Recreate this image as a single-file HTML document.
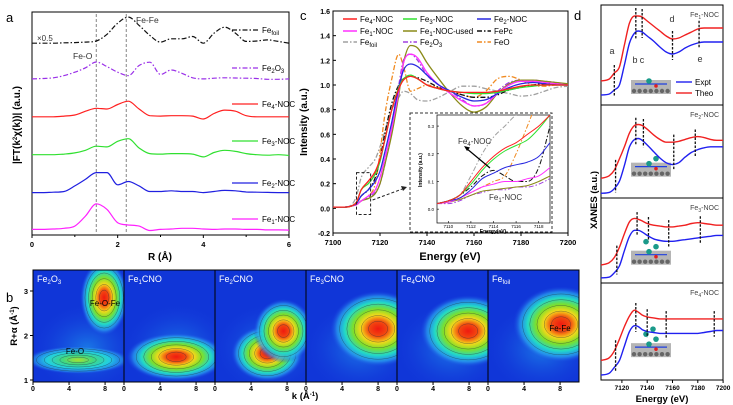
<!DOCTYPE html>
<html><head><meta charset="utf-8"><style>
html,body{margin:0;padding:0;background:#fff;}
svg{display:block;font-family:"Liberation Sans",Arial,sans-serif;}
</style></head><body>
<svg id="fig" width="733" height="405" viewBox="0 0 733 405" xmlns="http://www.w3.org/2000/svg">
<defs>
<radialGradient id="hot"><stop offset="0" stop-color="#f01a10"/><stop offset="0.2" stop-color="#f24a10"/><stop offset="0.36" stop-color="#f5d81a"/><stop offset="0.52" stop-color="#7de02a"/><stop offset="0.7" stop-color="#22d8c8"/><stop offset="0.86" stop-color="#2a9ff0" stop-opacity="0.7"/><stop offset="1" stop-color="#1a40e0" stop-opacity="0"/></radialGradient>
<radialGradient id="warm"><stop offset="0" stop-color="#a8e030"/><stop offset="0.3" stop-color="#40d880"/><stop offset="0.6" stop-color="#22d0e0"/><stop offset="0.85" stop-color="#2a9ff0" stop-opacity="0.6"/><stop offset="1" stop-color="#1a40e0" stop-opacity="0"/></radialGradient>
<radialGradient id="haze"><stop offset="0" stop-color="#20a8f0" stop-opacity="0.6"/><stop offset="1" stop-color="#1a40e0" stop-opacity="0"/></radialGradient>
</defs>
</svg>
<script>
// ---------------- Panel a data (R in Å, relative amplitudes) ----------------
const aR = [0,0.25,0.5,0.75,1,1.25,1.5,1.75,2,2.25,2.5,2.75,3,3.25,3.5,3.75,4,4.25,4.5,4.75,5,5.25,5.5,5.75,6];
const aFe1 = [0,0,0.02,0.05,0.15,0.6,1.15,0.9,0.3,0.2,0.15,-0.05,0,0.02,0.05,0.05,0.02,0,0.02,0.02,0,0,-0.02,-0.02,-0.03];
const aFe2 = [0,0,0.02,0.05,0.3,0.6,0.9,0.9,0.35,0.5,0.3,0.05,0.05,0.08,0.05,0.05,0,0.05,0.1,0.08,0.03,0.02,0.01,0,0];
const aFe3 = [0,0,0,0.03,0.08,0.2,0.38,0.35,0.6,0.72,0.3,0.05,0.03,0.05,0.05,0.03,-0.1,0.1,0.2,0.15,0.05,0,-0.02,0,-0.03];
const aFe4 = [0,0,0,0.03,0.08,0.25,0.38,0.35,0.55,0.7,0.35,0.05,0.03,0.05,0.05,0.03,-0.1,0.15,0.3,0.25,0.05,0,0,0,0];
const aFe2O3 = [0,0.02,0.05,0.15,0.3,0.5,0.76,0.55,0.3,0.15,0.6,0.75,0.2,0.4,0.25,0.05,0,0.03,0.05,0.04,0.03,0.02,-0.02,-0.02,0];
const aFoil = [0,0,0,0.02,0.03,0.05,0.1,0.4,0.9,1.17,0.8,0.35,0.05,0.2,0.2,0.3,0,0.45,0.72,0.45,0.08,0.1,0.15,0.08,0];
const aOffsets = [0.25,1.9,3.6,5.3,7.0,8.6];
const aTicks = [0,2,4,6];

// ---------------- Panel c data (XANES) ----------------
const cE = [7100,7105,7108,7110,7112,7115,7118,7120,7122,7125,7128,7130,7133,7136,7140,7145,7150,7155,7160,7165,7170,7175,7180,7185,7190,7195,7200];
const cFe4 = [0.01,0.01,0.02,0.05,0.15,0.22,0.3,0.4,0.55,0.8,0.97,1.04,1.07,1.05,1.0,0.97,0.95,0.94,0.94,0.94,0.95,0.97,0.99,1.0,1.0,1.0,1.0];
const cFe3 = [0.01,0.01,0.02,0.05,0.15,0.2,0.28,0.38,0.55,0.8,0.98,1.05,1.08,1.05,1.0,0.97,0.95,0.94,0.93,0.93,0.94,0.96,0.98,0.99,1.0,1.0,1.0];
const cFe2 = [0.01,0.01,0.02,0.04,0.1,0.15,0.22,0.3,0.45,0.7,0.98,1.12,1.17,1.15,1.08,1.0,0.95,0.9,0.87,0.88,0.93,0.98,1.01,1.02,1.01,1.0,1.0];
const cFe1 = [0.01,0.01,0.02,0.03,0.06,0.1,0.15,0.25,0.4,0.65,0.95,1.18,1.25,1.22,1.1,1.0,0.93,0.87,0.83,0.85,0.93,1.0,1.03,1.03,1.02,1.01,1.0];
const cFe1used = [0.01,0.01,0.02,0.03,0.06,0.08,0.12,0.2,0.35,0.6,0.92,1.18,1.32,1.3,1.18,1.05,0.93,0.83,0.78,0.82,0.93,1.01,1.04,1.04,1.03,1.02,1.01];
const cFePc = [0.01,0.01,0.02,0.04,0.1,0.15,0.25,0.4,0.6,0.85,1.0,1.05,1.07,1.06,1.03,0.98,0.95,0.92,0.9,0.9,0.92,0.96,0.98,1.0,1.01,1.01,1.0];
const cFoil = [0.01,0.01,0.03,0.1,0.25,0.33,0.4,0.5,0.62,0.8,0.9,0.95,0.93,0.88,0.87,0.9,0.95,0.99,0.99,0.97,0.95,0.93,0.91,0.92,0.95,0.98,0.99];
const cFe2O3 = [0.01,0.01,0.02,0.03,0.06,0.09,0.13,0.2,0.35,0.65,1.0,1.2,1.25,1.2,1.08,1.0,0.95,0.88,0.83,0.85,0.95,1.02,1.04,1.04,1.03,1.02,1.0];
const cFeO = [0.01,0.01,0.02,0.03,0.06,0.1,0.2,0.45,0.75,1.05,1.25,1.15,0.95,0.97,1.0,0.98,0.95,0.92,0.9,0.95,1.05,1.07,1.04,1.0,0.99,1.0,1.0];
const cYTicks = [-0.2,0,0.2,0.4,0.6,0.8,1.0,1.2,1.4,1.6];
const cXTicks = [7100,7120,7140,7160,7180,7200];
// inset
const iE = [7109,7110,7111,7112,7113,7114,7115,7116,7117,7118,7119];
const iFe4 = [.02,.03,.05,.1,.15,.19,.22,.24,.27,.3,.34];
const iFe3 = [.02,.03,.05,.09,.14,.18,.21,.23,.25,.29,.34];
const iFe2 = [.02,.03,.04,.07,.11,.13,.15,.16,.17,.19,.24];
const iFe1 = [.02,.025,.04,.06,.08,.09,.1,.1,.11,.12,.15];
const iFe1used = [.02,.025,.035,.05,.065,.07,.075,.08,.085,.1,.12];
const iFePc = [.02,.03,.05,.08,.12,.14,.12,.1,.1,.15,.3];
const iFoil = [.02,.03,.05,.12,.2,.26,.3,.34,.36,.38,.4];
const iFe2O3 = [.02,.02,.03,.05,.06,.07,.07,.08,.08,.09,.11];
const iFeO = [.02,.03,.04,.06,.08,.1,.12,.2,.3,.4,.45];
const iYTicks = [0,0.1,0.2,0.3];
const iXTicks = [7110,7112,7114,7116,7118];

// ---------------- Panel d data ----------------
const dE = [7103,7110,7114,7118,7122,7126,7130,7133,7136,7140,7145,7150,7155,7160,7165,7170,7175,7180,7185,7190,7195,7200];
const dExpt1 = [0.1,0.11,0.15,0.2,0.4,0.62,0.72,0.74,0.73,0.69,0.64,0.58,0.53,0.51,0.53,0.57,0.6,0.62,0.63,0.63,0.63,0.63];
const dTheo1 = [0.24,0.26,0.32,0.38,0.6,0.82,0.89,0.89,0.88,0.84,0.79,0.74,0.69,0.66,0.67,0.7,0.73,0.76,0.77,0.77,0.77,0.77];
const dExpt2 = [0.05,0.06,0.1,0.18,0.35,0.55,0.63,0.64,0.62,0.57,0.5,0.43,0.38,0.36,0.38,0.44,0.49,0.52,0.54,0.55,0.55,0.55];
const dTheo2 = [0.21,0.24,0.3,0.42,0.55,0.7,0.78,0.79,0.78,0.74,0.68,0.63,0.6,0.6,0.61,0.63,0.65,0.66,0.65,0.63,0.62,0.62];
const dExpt3 = [0.06,0.07,0.12,0.2,0.38,0.55,0.62,0.62,0.6,0.56,0.52,0.5,0.49,0.49,0.5,0.51,0.52,0.53,0.54,0.55,0.56,0.56];
const dTheo3 = [0.21,0.24,0.3,0.42,0.58,0.72,0.76,0.75,0.73,0.7,0.68,0.67,0.66,0.66,0.67,0.68,0.7,0.71,0.7,0.69,0.68,0.68];
const dExpt4 = [0.05,0.07,0.13,0.2,0.35,0.5,0.56,0.55,0.52,0.5,0.49,0.48,0.48,0.48,0.48,0.48,0.48,0.48,0.49,0.5,0.51,0.51];
const dTheo4 = [0.2,0.23,0.3,0.42,0.55,0.66,0.72,0.7,0.67,0.65,0.64,0.63,0.63,0.63,0.63,0.63,0.63,0.63,0.63,0.63,0.63,0.63];
const dMarks1 = [7114,7131,7136,7160,7181];
const dMarks2 = [7115,7131,7137,7161,7178];
const dMarks3 = [7116,7132,7141,7157,7182];
const dMarks4 = [7115,7131,7140,7155,7193];
const dXTicks = [7120,7140,7160,7180,7200];

// ---------------- Panel b data (WT peaks: k, R) ----------------
const bNames = ["Fe<tspan dy='2' font-size='6'>2</tspan><tspan dy='-2'>O</tspan><tspan dy='2' font-size='6'>3</tspan>","Fe<tspan dy='2' font-size='6'>1</tspan><tspan dy='-2'>CNO</tspan>","Fe<tspan dy='2' font-size='6'>2</tspan><tspan dy='-2'>CNO</tspan>","Fe<tspan dy='2' font-size='6'>3</tspan><tspan dy='-2'>CNO</tspan>","Fe<tspan dy='2' font-size='6'>4</tspan><tspan dy='-2'>CNO</tspan>","Fe<tspan dy='2' font-size='6'>foil</tspan>"];
const bPeakK = [[7.9,5.0],[5.8],[5.8,7.6],[8.0],[7.9],[8.1]];
const bPeakR = [[2.85,1.45],[1.52],[1.6,2.1],[2.15],[2.1],[2.25]];
const bPeakHot = [[1,0],[1],[1,1],[1],[1],[1]];
const bPeakSize = [[[24,38],[52,14]],[[50,24]],[[36,28],[30,32]],[[48,38]],[[48,36]],[[48,38]]];
const bKTicks = [0,4,8];
const bRTicks = [1,2,3];

// ---------------- helpers ----------------
const SVG = document.getElementById('fig');
const NS = 'http://www.w3.org/2000/svg';
function mk(tag, attrs, name, parent){
  const el = document.createElementNS(NS, tag);
  for (const k in attrs) el.setAttribute(k, attrs[k]);
  
  
  (parent||SVG).appendChild(el);
  return el;
}
function txt(x,y,html,name,opt){
  opt = opt||{};
  const el = mk('text',{x:x,y:y,'font-size':opt.size||8,'font-weight':opt.bold?'bold':'normal','text-anchor':opt.anchor||'start',fill:opt.fill||'#000'},name,opt.parent);
  if(opt.rot) el.setAttribute('transform','rotate('+opt.rot+' '+x+' '+y+')');
  el.innerHTML = html;
  return el;
}
function lin(d0,d1,r0,r1){ return v => r0 + (v-d0)/(d1-d0)*(r1-r0); }
// monotone cubic (Fritsch-Carlson)
function smoothPath(xs,ys){
  const n=xs.length, d=[], m=new Array(n);
  for(let i=0;i<n-1;i++) d.push((ys[i+1]-ys[i])/(xs[i+1]-xs[i]));
  m[0]=d[0]; m[n-1]=d[n-2];
  for(let i=1;i<n-1;i++){ m[i]=(d[i-1]*d[i]<=0)?0:(d[i-1]+d[i])/2; }
  for(let i=0;i<n-1;i++){
    if(d[i]===0){m[i]=0;m[i+1]=0;continue;}
    const a=m[i]/d[i], b=m[i+1]/d[i], s=a*a+b*b;
    if(s>9){const t=3/Math.sqrt(s); m[i]=t*a*d[i]; m[i+1]=t*b*d[i];}
  }
  let p='M'+xs[0].toFixed(1)+','+ys[0].toFixed(1);
  for(let i=0;i<n-1;i++){
    const h=(xs[i+1]-xs[i])/3;
    p+=' C'+(xs[i]+h).toFixed(1)+','+(ys[i]+m[i]*h).toFixed(1)+' '+(xs[i+1]-h).toFixed(1)+','+(ys[i+1]-m[i+1]*h).toFixed(1)+' '+xs[i+1].toFixed(1)+','+ys[i+1].toFixed(1);
  }
  return p;
}
function series(xv,yv,X,Y,color,dash,name,parent,w){
  return mk('path',{d:smoothPath(xv.map(X),yv.map(Y)),fill:'none',stroke:color,'stroke-width':w||1.2,'stroke-dasharray':dash||'none'},name,parent);
}
const DD = '5,2,1.5,2';

// ================= PANEL A =================
const aX = lin(0,6,32,289), aY = lin(0,10,235,12);
txt(6,22,'a','panel-a-letter',{size:13});
mk('rect',{x:32,y:12,width:257,height:223,fill:'none',stroke:'#000','stroke-width':1},'panel-a-frame');
aTicks.forEach(t=>{
  mk('line',{x1:aX(t),x2:aX(t),y1:235,y2:238,stroke:'#000'},'a-x-tick');
  txt(aX(t),247,t,'a-x-tick-label',{bold:true,anchor:'middle',size:7.5});
});
[1,3,5].forEach(t=>mk('line',{x1:aX(t),x2:aX(t),y1:235,y2:237,stroke:'#000'},'a-x-minor-tick'));
txt(160,260,'R (Å)','a-x-axis-title',{bold:true,anchor:'middle',size:10});
txt(20,125,'|FT(k<tspan dy="-3" font-size="6">2</tspan><tspan dy="3">χ(k))| (a.u.)</tspan>','a-y-axis-title',{bold:true,anchor:'middle',size:10,rot:-90});
[1.5,2.2].forEach(r=>mk('line',{x1:aX(r),x2:aX(r),y1:14,y2:233,stroke:'#777','stroke-dasharray':'3,2','stroke-width':0.9},'a-reference-dashed-line'));
const aSeries = [[aFe1,'#ff20ff',null,'fe1-noc'],[aFe2,'#2020e0',null,'fe2-noc'],[aFe3,'#30e030',null,'fe3-noc'],[aFe4,'#ff2020',null,'fe4-noc'],[aFe2O3,'#9a30e8',DD,'fe2o3'],[aFoil,'#111',DD,'fe-foil']];
aSeries.forEach((s,i)=>{
  series(aR,s[0].map(v=>v+aOffsets[i]),aX,aY,s[1],s[2],'a-curve-'+s[3]);
});
const aLab = [[219,'Fe<tspan dy="2" font-size="6">1</tspan><tspan dy="-2">-NOC</tspan>','#ff20ff',null],[183,'Fe<tspan dy="2" font-size="6">2</tspan><tspan dy="-2">-NOC</tspan>','#2020e0',null],[141,'Fe<tspan dy="2" font-size="6">3</tspan><tspan dy="-2">-NOC</tspan>','#30e030',null],[104,'Fe<tspan dy="2" font-size="6">4</tspan><tspan dy="-2">-NOC</tspan>','#ff2020',null],[68,'Fe<tspan dy="2" font-size="6">2</tspan><tspan dy="-2">O</tspan><tspan dy="2" font-size="6">3</tspan>','#9a30e8',DD],[30,'Fe<tspan dy="2" font-size="6">foil</tspan>','#111',DD]];
aLab.forEach(l=>{
  mk('line',{x1:232,x2:258,y1:l[0],y2:l[0],stroke:l[2],'stroke-width':1.3,'stroke-dasharray':l[3]||'none'},'a-legend-line');
  txt(262,l[0]+3,l[1],'a-legend-label',{size:8});
});
txt(37,41,'×0.5','a-scale-note',{size:8,fill:'#333'});
txt(73,59,'Fe-O','a-fe-o-label',{size:8.5,fill:'#333'});
txt(136,23,'Fe-Fe','a-fe-fe-label',{size:8.5,fill:'#333'});

// ================= PANEL B =================
txt(6,302,'b','panel-b-letter',{size:13});
const bTop=270,bBot=382,bLeft=33,bW=91;
const bRY = lin(1,3,380,291);
bNames.forEach((nm,p)=>{
  const x0 = bLeft+p*bW;
  const kX = lin(0,10.1,x0,x0+bW);
  const g = mk('g',{},'wt-panel-'+p);
  const cp = mk('clipPath',{id:'bc'+p},'wt-clip',SVG.querySelector('defs'));
  mk('rect',{x:x0,y:bTop,width:bW,height:bBot-bTop},'wt-clip-rect',cp);
  g.setAttribute('clip-path','url(#bc'+p+')');
  mk('rect',{x:x0,y:bTop,width:bW,height:bBot-bTop,fill:'#1036d8'},'wt-background',g);
  mk('ellipse',{cx:kX(6),cy:bRY(1.7),rx:bW*0.6,ry:45,fill:'url(#haze)'},'wt-haze',g);
  bPeakK[p].forEach((k,j)=>{
    const hot = bPeakHot[p][j];
    const rx = bPeakSize[p][j][0], ry = bPeakSize[p][j][1];
    const cx=kX(k), cy=bRY(bPeakR[p][j]);
    mk('ellipse',{cx:cx,cy:cy,rx:rx,ry:ry,fill:hot?'url(#hot)':'url(#warm)'},'wt-peak',g);
    [0.2,0.35,0.5,0.65,0.8].forEach(s=>mk('ellipse',{cx:cx,cy:cy,rx:rx*s,ry:ry*s,fill:'none',stroke:'#203040','stroke-width':0.5,'stroke-opacity':0.6},'wt-contour',g));
  });
  mk('rect',{x:x0,y:bTop,width:bW,height:bBot-bTop,fill:'none',stroke:'#000','stroke-width':1},'wt-frame');
  txt(x0+4,bTop+12,nm,'wt-panel-title',{size:9,fill:'#fff'});
  bKTicks.forEach(t=>{
    mk('line',{x1:kX(t),x2:kX(t),y1:bBot,y2:bBot+3,stroke:'#000'},'b-x-tick');
    txt(kX(t),bBot+9,t,'b-x-tick-label',{bold:true,anchor:'middle',size:7});
  });
});
bRTicks.forEach(t=>{
  mk('line',{x1:bLeft-3,x2:bLeft,y1:bRY(t),y2:bRY(t),stroke:'#000'},'b-y-tick');
  txt(bLeft-5,bRY(t)+3,t,'b-y-tick-label',{bold:true,anchor:'end',size:7.5});
});
txt(305,399,'k (Å<tspan dy="-3" font-size="6">-1</tspan><tspan dy="3">)</tspan>','b-x-axis-title',{bold:true,anchor:'middle',size:9.5});
txt(17,326,'R+α (Å<tspan dy="-3" font-size="6">-1</tspan><tspan dy="3">)</tspan>','b-y-axis-title',{bold:true,anchor:'middle',size:9.5,rot:-90});
txt(bLeft+72,306,'Fe-O-Fe','wt-label-fe-o-fe',{size:8,fill:'#000',anchor:'middle'});
txt(bLeft+42,354,'Fe-O','wt-label-fe-o',{size:8,fill:'#000',anchor:'middle'});
txt(bLeft+5*bW+72,331,'Fe-Fe','wt-label-fe-fe',{size:8,fill:'#000',anchor:'middle'});

// ================= PANEL C =================
const cX = lin(7100,7200,333,568), cY = lin(-0.2,1.6,233,11);
txt(300,20,'c','panel-c-letter',{size:13});
mk('rect',{x:333,y:11,width:235,height:222,fill:'none',stroke:'#000'},'panel-c-frame');
cYTicks.forEach(t=>{
  mk('line',{x1:333,x2:336,y1:cY(t),y2:cY(t),stroke:'#000'},'c-y-tick');
  txt(330,cY(t)+3,t.toFixed(1),'c-y-tick-label',{bold:true,anchor:'end',size:7});
});
cXTicks.forEach(t=>{
  mk('line',{x1:cX(t),x2:cX(t),y1:233,y2:236,stroke:'#000'},'c-x-tick');
  txt(cX(t),245,t,'c-x-tick-label',{bold:true,anchor:'middle',size:7.5});
});
txt(450,260,'Energy (eV)','c-x-axis-title',{bold:true,anchor:'middle',size:11});
txt(307,122,'Intensity (a.u.)','c-y-axis-title',{bold:true,anchor:'middle',size:10,rot:-90});
const cSer = [[cFoil,iFoil,'#a0a0a0',DD,'fe-foil'],[cFeO,iFeO,'#f08a20',DD,'feo'],[cFePc,iFePc,'#111',DD,'fepc'],[cFe2O3,iFe2O3,'#a040e0',DD,'fe2o3'],[cFe1used,iFe1used,'#8a8a18',null,'fe1-noc-used'],[cFe1,iFe1,'#ff30ff',null,'fe1-noc'],[cFe2,iFe2,'#2828e0',null,'fe2-noc'],[cFe3,iFe3,'#30e030',null,'fe3-noc'],[cFe4,iFe4,'#ff2020',null,'fe4-noc']];
cSer.forEach(s=>series(cE,s[0],cX,cY,s[2],s[3],'c-curve-'+s[4],null,1.3));
mk('rect',{x:cX(7110),y:cY(0.29),width:cX(7116)-cX(7110),height:cY(-0.05)-cY(0.29),fill:'none',stroke:'#222','stroke-dasharray':'3,2'},'c-zoom-box');
mk('line',{x1:cX(7116)+2,y1:200,x2:405,y2:188,stroke:'#222','stroke-dasharray':'3,2'},'c-zoom-arrow');
mk('path',{d:'M407,187 l-6,-1 l2,5 z',fill:'#222'},'c-zoom-arrowhead');
const cLeg = [[343,19,'#ff2020',null,'Fe<tspan dy="2" font-size="6">4</tspan><tspan dy="-2">-NOC</tspan>'],[403,19,'#30e030',null,'Fe<tspan dy="2" font-size="6">3</tspan><tspan dy="-2">-NOC</tspan>'],[477,19,'#2828e0',null,'Fe<tspan dy="2" font-size="6">2</tspan><tspan dy="-2">-NOC</tspan>'],
 [343,31,'#ff30ff',null,'Fe<tspan dy="2" font-size="6">1</tspan><tspan dy="-2">-NOC</tspan>'],[403,31,'#8a8a18',null,'Fe<tspan dy="2" font-size="6">1</tspan><tspan dy="-2">-NOC-used</tspan>'],[477,31,'#111',DD,'FePc'],
 [343,42,'#a0a0a0',DD,'Fe<tspan dy="2" font-size="6">foil</tspan>'],[403,42,'#a040e0',DD,'Fe<tspan dy="2" font-size="6">2</tspan><tspan dy="-2">O</tspan><tspan dy="2" font-size="6">3</tspan>'],[477,42,'#f08a20',DD,'FeO']];
cLeg.forEach(l=>{
  mk('line',{x1:l[0],x2:l[0]+14,y1:l[1],y2:l[1],stroke:l[2],'stroke-width':1.5,'stroke-dasharray':l[3]||'none'},'c-legend-line');
  txt(l[0]+17,l[1]+3,l[4],'c-legend-label',{size:8});
});
mk('rect',{x:410,y:113,width:142,height:119,fill:'#fff',stroke:'#333','stroke-dasharray':'3,2'},'c-inset-frame');
const iX = lin(7109,7119,437,550), iY = lin(-0.05,0.34,223,115);
mk('rect',{x:437,y:115,width:113,height:108,fill:'none',stroke:'#000','stroke-width':0.7},'c-inset-axes');
const icp = mk('clipPath',{id:'ic'},'inset-clip',SVG.querySelector('defs'));
mk('rect',{x:437,y:115,width:113,height:108},'inset-clip-rect',icp);
const ig = mk('g',{'clip-path':'url(#ic)'},'c-inset-plot');
cSer.forEach(s=>series(iE,s[1],iX,iY,s[2],s[3],'c-inset-curve-'+s[4],ig,1));
iYTicks.forEach(t=>{ mk('line',{x1:437,x2:439,y1:iY(t),y2:iY(t),stroke:'#000','stroke-width':0.6},'c-inset-y-tick'); txt(434,iY(t)+2,t.toFixed(1),'c-inset-y-tick-label',{anchor:'end',size:4.5}); });
iXTicks.forEach(t=>{ mk('line',{x1:iX(t),x2:iX(t),y1:223,y2:221,stroke:'#000','stroke-width':0.6},'c-inset-x-tick'); txt(iX(t),228,t,'c-inset-x-tick-label',{anchor:'middle',size:4.5}); });
txt(493,233,'Energy(eV)','c-inset-x-title',{anchor:'middle',size:5,bold:true});
txt(422,170,'Intensity (a.u.)','c-inset-y-title',{anchor:'middle',size:5,bold:true,rot:-90});
mk('line',{x1:490,y1:168,x2:466,y2:148,stroke:'#000','stroke-width':1.2},'c-inset-arrow');
mk('path',{d:'M464,146 l6,1.5 l-3,3.5 z',fill:'#000'},'c-inset-arrowhead');
txt(458,144,'Fe<tspan dy="2" font-size="6">4</tspan><tspan dy="-2">-NOC</tspan>','c-inset-fe4-label',{size:8,fill:'#333'});
txt(489,200,'Fe<tspan dy="2" font-size="6">1</tspan><tspan dy="-2">-NOC</tspan>','c-inset-fe1-label',{size:8,fill:'#333'});

// ================= PANEL D =================
txt(574,20,'d','panel-d-letter',{size:13});
const dX = lin(7100,7200,596.6,723.1);
const dSubs = [[5,105,dExpt1,dTheo1,dMarks1,'Fe<tspan dy="2" font-size="5">1</tspan><tspan dy="-2">-NOC</tspan>'],[105,198,dExpt2,dTheo2,dMarks2,'Fe<tspan dy="2" font-size="5">2</tspan><tspan dy="-2">-NOC</tspan>'],[198,283,dExpt3,dTheo3,dMarks3,'Fe<tspan dy="2" font-size="5">3</tspan><tspan dy="-2">-NOC</tspan>'],[283,380,dExpt4,dTheo4,dMarks4,'Fe<tspan dy="2" font-size="5">4</tspan><tspan dy="-2">-NOC</tspan>']];
dSubs.forEach((s,i)=>{
  const Y = lin(0,1,s[1],s[0]);
  mk('rect',{x:601,y:s[0],width:122,height:s[1]-s[0],fill:'none',stroke:'#000'},'d-subpanel-frame-'+(i+1));
  const cp = mk('clipPath',{id:'dc'+i},'d-clip',SVG.querySelector('defs'));
  mk('rect',{x:601,y:s[0],width:122,height:s[1]-s[0]},'d-clip-rect',cp);
  const g = mk('g',{'clip-path':'url(#dc'+i+')'},'d-subpanel-'+(i+1));
  const mx=631,my=s[0]+(i==0?75:(s[1]-s[0])*0.62);
  mk('rect',{x:mx,y:my,width:40,height:14,fill:'#a8a8a8',opacity:0.85},'d-structure-substrate',g);
  for(let c=0;c<7;c++) mk('circle',{cx:mx+3+c*5.6,cy:my+11,r:2.2,fill:'#666'},'d-structure-carbon',g);
  mk('line',{x1:mx+4,y1:my+4,x2:mx+36,y2:my+4,stroke:'#2040e0','stroke-width':1.2},'d-structure-bond',g);
  for(let f=0;f<i+1;f++) mk('circle',{cx:mx+18+(f%2)*7-(f>1?3:0),cy:my+1-f*5,r:2.8,fill:'#1a9a8a'},'d-structure-fe-atom',g);
  mk('circle',{cx:mx+25,cy:my+6,r:1.8,fill:'#e02020'},'d-structure-o-atom',g);
  series(dE,s[2],dX,Y,'#2020f0',null,'d-expt-curve-'+(i+1),g,1.4);
  series(dE,s[3],dX,Y,'#f02020',null,'d-theo-curve-'+(i+1),g,1.4);
  s[4].forEach(e=>{
    let j=0; while(j<dE.length-2 && dE[j+1]<e) j++;
    const f=(e-dE[j])/(dE[j+1]-dE[j]);
    const vr=s[3][j]+f*(s[3][j+1]-s[3][j]), vb=s[2][j]+f*(s[2][j+1]-s[2][j]);
    mk('line',{x1:dX(e),x2:dX(e),y1:Y(vr+0.08),y2:Y(vb-0.06),stroke:'#111','stroke-width':1.3,'stroke-dasharray':'2.5,1.5'},'d-feature-marker',g);
  });
  txt(719,s[0]+12,s[5],'d-subpanel-title',{anchor:'end',size:7,fill:'#444'});
});
dXTicks.forEach(t=>{
  mk('line',{x1:dX(t),x2:dX(t),y1:380,y2:383,stroke:'#000'},'d-x-tick');
  txt(dX(t),390,t,'d-x-tick-label',{bold:true,anchor:'middle',size:6.5});
});
txt(662,402,'Energy (eV)','d-x-axis-title',{bold:true,anchor:'middle',size:9.5});
txt(597,200,'XANES (a.u.)','d-y-axis-title',{bold:true,anchor:'middle',size:9.5,rot:-90});
[['a',612,54],['b',635,63],['c',642,63],['d',672,22],['e',700,62]].forEach(l=>txt(l[1],l[2],l[0],'d-feature-label-'+l[0],{size:9,fill:'#333',anchor:'middle'}));
mk('line',{x1:676,x2:692,y1:82,y2:82,stroke:'#2020f0','stroke-width':1.4},'d-legend-expt-line');
txt(695,85,'Expt','d-legend-expt-label',{size:8});
mk('line',{x1:676,x2:692,y1:93,y2:93,stroke:'#f02020','stroke-width':1.4},'d-legend-theo-line');
txt(695,96,'Theo','d-legend-theo-label',{size:8});
</script>
</body></html>
